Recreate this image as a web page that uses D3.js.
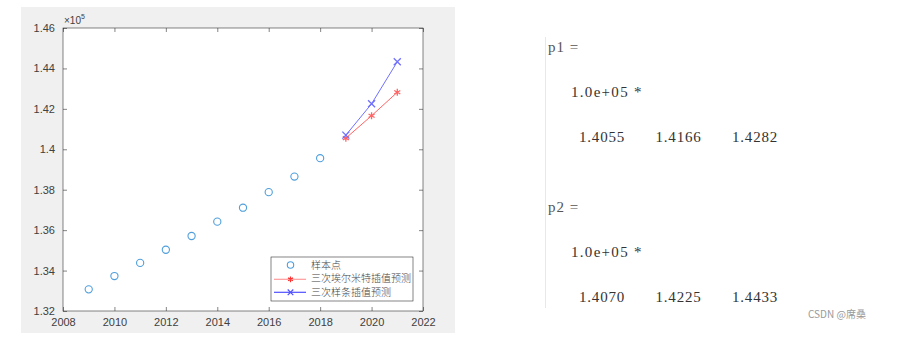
<!DOCTYPE html>
<html>
<head>
<meta charset="utf-8">
<script src="https://cdn.jsdelivr.net/npm/d3@7"></script>
<style>
  body { margin: 0; background: #fff; }
  svg { display: block; }
</style>
</head>
<body>
<div id="container"></div>
<script>
/* DATA */
const years = [2009, 2010, 2011, 2012, 2013, 2014, 2015, 2016, 2017, 2018];
const samples = [133070, 133730, 134380, 135030, 135710, 136420, 137110, 137880, 138650, 139560];
const predYears = [2019, 2020, 2021];
const hermite = [140550, 141660, 142820];
const spline = [140700, 142250, 144330];
const xTicks = [2008, 2010, 2012, 2014, 2016, 2018, 2020, 2022];
const yTicks = [132000, 134000, 136000, 138000, 140000, 142000, 144000, 146000];
const legendNames = ["样本点", "三次埃尔米特插值预测", "三次样条插值预测"];
const p1 = ["1.4055", "1.4166", "1.4282"];
const p2 = ["1.4070", "1.4225", "1.4433"];

/* CONSTANTS */
const width = 898, height = 340;
const box = { left: 63, right: 423, top: 28, bottom: 311 };

const svg = d3.select("#container")
  .append("svg")
  .attr("width", width)
  .attr("height", height);

// figure background
svg.append("rect")
  .attr("x", 21).attr("y", 7)
  .attr("width", 434).attr("height", 326)
  .attr("fill", "#f0f0f0");

// SCALES
const xScale = d3.scaleLinear()
  .domain([2008, 2022])
  .range([box.left, box.right]);

const yScale = d3.scaleLinear()
  .domain([132000, 146000])
  .range([box.bottom, box.top]);

// axes area
svg.append("rect")
  .attr("x", box.left).attr("y", box.top)
  .attr("width", box.right - box.left).attr("height", box.bottom - box.top)
  .attr("fill", "#fff")
  .attr("stroke", "#333")
  .attr("stroke-width", 0.6);

// AXES (ticks inward, box on)
const fmtY = d => d3.format("~g")(d / 1e5);
const axStyle = g => {
  g.select(".domain").remove();
  g.selectAll(".tick line").attr("stroke", "#333").attr("stroke-width", 0.6);
  g.selectAll(".tick text")
    .attr("fill", "#404040")
    .style("font-family", "'Liberation Sans', Arial, sans-serif")
    .style("font-size", "11px");
};

svg.append("g")
  .attr("transform", `translate(0, ${box.bottom})`)
  .call(d3.axisBottom(xScale).tickValues(xTicks).tickFormat(d3.format("d")).tickSizeInner(-4).tickPadding(7))
  .call(axStyle);

svg.append("g")
  .attr("transform", `translate(0, ${box.top})`)
  .call(d3.axisTop(xScale).tickValues(xTicks).tickFormat("").tickSizeInner(-4))
  .call(axStyle);

svg.append("g")
  .attr("transform", `translate(${box.left}, 0)`)
  .call(d3.axisLeft(yScale).tickValues(yTicks).tickFormat(fmtY).tickSizeInner(-4).tickPadding(8))
  .call(axStyle);

svg.append("g")
  .attr("transform", `translate(${box.right}, 0)`)
  .call(d3.axisRight(yScale).tickValues(yTicks).tickFormat("").tickSizeInner(-4))
  .call(axStyle);

// exponent label
const expo = svg.append("text")
  .attr("x", 64).attr("y", 24)
  .attr("fill", "#404040")
  .style("font-family", "'Liberation Sans', Arial, sans-serif")
  .style("font-size", "10px");
expo.append("tspan").text("×10");
expo.append("tspan").attr("dy", -5).style("font-size", "7px").text("5");

// SAMPLE POINTS
svg.selectAll("circle.sample")
  .data(years)
  .join("circle")
  .attr("class", "sample")
  .attr("cx", d => xScale(d))
  .attr("cy", (d, i) => yScale(samples[i]))
  .attr("r", 3.6)
  .attr("fill", "none")
  .attr("stroke", "#4f9fdc")
  .attr("stroke-width", 1.1);

// LINES
const lineGen = d3.line()
  .x(d => xScale(d[0]))
  .y(d => yScale(d[1]));

const series = [
  { vals: hermite, color: "#ff6464", sym: d3.symbolAsterisk },
  { vals: spline, color: "#7070ff", sym: d3.symbolX }
];

series.forEach(s => {
  const pts = predYears.map((y, i) => [y, s.vals[i]]);
  svg.append("path")
    .datum(pts)
    .attr("d", lineGen)
    .attr("fill", "none")
    .attr("stroke", s.color)
    .attr("stroke-width", 1);
  svg.selectAll(null)
    .data(pts)
    .join("path")
    .attr("transform", d => `translate(${xScale(d[0])}, ${yScale(d[1])})`)
    .attr("d", d3.symbol(s.sym, 34))
    .attr("fill", "none")
    .attr("stroke", s.color)
    .attr("stroke-width", 1.3);
});

// LEGEND
const lg = svg.append("g");
lg.append("rect")
  .attr("x", 271).attr("y", 257)
  .attr("width", 142).attr("height", 44)
  .attr("fill", "#fff")
  .attr("stroke", "#333")
  .attr("stroke-width", 0.6);

lg.append("circle")
  .attr("cx", 290.5).attr("cy", 265)
  .attr("r", 3.2)
  .attr("fill", "none")
  .attr("stroke", "#4f9fdc")
  .attr("stroke-width", 1.1);

const legendRows = [
  { y: 279.3, color: "#ff9a9a", mk: "#ff3030", sym: d3.symbolAsterisk },
  { y: 292.3, color: "#5050ff", mk: "#5050ff", sym: d3.symbolX }
];
legendRows.forEach(r => {
  lg.append("line")
    .attr("x1", 274).attr("x2", 306)
    .attr("y1", r.y).attr("y2", r.y)
    .attr("stroke", r.color)
    .attr("stroke-width", 1.2);
  lg.append("path")
    .attr("transform", `translate(290.5, ${r.y})`)
    .attr("d", d3.symbol(r.sym, 22))
    .attr("fill", "none")
    .attr("stroke", r.mk)
    .attr("stroke-width", 1.2);
});

lg.selectAll("text")
  .data(legendNames)
  .join("text")
  .attr("x", 311)
  .attr("y", (d, i) => 268.5 + i * 13.5)
  .attr("fill", "#444")
  .style("font-family", "'Noto Sans CJK SC', sans-serif")
  .style("font-size", "10px")
  .style("font-weight", 300)
  .text(d => d);

// CONSOLE OUTPUT
svg.append("line")
  .attr("x1", 545.5).attr("x2", 545.5)
  .attr("y1", 37).attr("y2", 308)
  .attr("stroke", "#e8e8e8")
  .attr("stroke-width", 1);

const con = svg.append("g")
  .attr("fill", "#333")
  .style("font-family", "'Liberation Serif', 'DejaVu Serif', serif")
  .style("font-size", "15px");

const block = (label, vals, y0) => {
  con.append("text").attr("x", 548).attr("y", y0).attr("fill", "#555")
    .style("letter-spacing", "1px").text(label + " =");
  con.append("text").attr("x", 571).attr("y", y0 + 45)
    .style("letter-spacing", "1.3px").text("1.0e+05 *");
  con.selectAll(null)
    .data(vals)
    .join("text")
    .attr("x", (d, i) => 579 + i * 76.5)
    .attr("y", y0 + 90)
    .style("letter-spacing", "0.8px")
    .text(d => d);
};
block("p1", p1, 52);
block("p2", p2, 212);

// watermark
svg.append("text")
  .attr("x", 808).attr("y", 318)
  .attr("fill", "#999")
  .style("font-family", "'Noto Sans CJK SC', 'Liberation Sans', sans-serif")
  .style("font-size", "10px")
  .text("CSDN @席桑");
</script>
</body>
</html>
